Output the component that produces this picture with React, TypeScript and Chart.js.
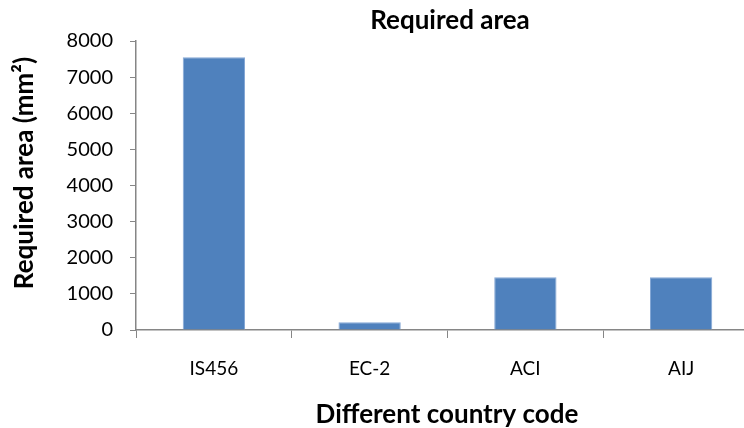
import React, { useEffect, useRef } from "react";
import { Chart, registerables } from "chart.js";

Chart.register(...registerables);

// Required reinforcement area per design code
const codes = ["IS456", "EC-2", "ACI", "AIJ"];
const requiredArea = [7550, 213, 1457, 1457];
const yTicks = [0, 1000, 2000, 3000, 4000, 5000, 6000, 7000, 8000];

const chartTitle = "Required area";
const xTitle = "Different country code";
const yTitle = "Required area (mm\u00B2)";

const FONT = "Lato, 'Open Sans', sans-serif";
const AXIS = "#868686";

const titlePlugin = {
  id: "titles",
  afterDraw(chart: Chart) {
    const ctx = chart.ctx;
    ctx.save();
    ctx.fillStyle = "#000";
    ctx.textAlign = "center";
    ctx.textBaseline = "alphabetic";
    ctx.font = `bold 26px ${FONT}`;
    ctx.fillText(chartTitle, 450, 29);
    ctx.font = `bold 26px ${FONT}`;
    ctx.fillText(xTitle, 447, 423);
    ctx.translate(33, 173);
    ctx.rotate(-Math.PI / 2);
    ctx.font = `bold 26px ${FONT}`;
    ctx.fillText(yTitle, 0, 0);
    ctx.restore();
  },
};

export default function App() {
  const ref = useRef<HTMLCanvasElement>(null);

  useEffect(() => {
    if (!ref.current) return;
    const chart = new Chart(ref.current, {
      type: "bar",
      data: {
        labels: codes,
        datasets: [
          {
            data: requiredArea,
            backgroundColor: "#4F81BD",
            borderColor: "#86a8d6",
            borderWidth: 1,
            categoryPercentage: 0.8,
            barPercentage: 0.5,
          },
        ],
      },
      options: {
        responsive: false,
        animation: false,
        layout: { padding: { left: 0, right: 21, top: 41, bottom: 0 } },
        plugins: {
          legend: { display: false },
          tooltip: { enabled: false },
        },
        scales: {
          x: {
            grid: {
              offset: true,
              drawOnChartArea: false,
              drawTicks: true,
              tickLength: 8,
              color: AXIS,
            },
            border: { display: true, color: AXIS, width: 1.5 },
            ticks: {
              color: "#000",
              font: { family: FONT, size: 19 },
              padding: 19,
            },
            afterFit(scale: any) {
              scale.height = 98;
            },
          },
          y: {
            min: 0,
            max: 8000,
            afterBuildTicks(scale: any) {
              scale.ticks = yTicks.map((v) => ({ value: v }));
            },
            grid: {
              drawOnChartArea: false,
              drawTicks: true,
              tickLength: 6,
              color: AXIS,
            },
            border: { display: true, color: AXIS, width: 1.5 },
            ticks: {
              color: "#000",
              font: { family: FONT, size: 20 },
              padding: 17,
              callback: (v: any) => String(v),
            },
            afterFit(scale: any) {
              scale.width = 136;
            },
          },
        },
      },
      plugins: [titlePlugin],
    });
    return () => chart.destroy();
  }, []);

  return (
    <div
      style={{
        position: "fixed",
        left: 0,
        top: 0,
        width: 744,
        height: 428,
        overflow: "hidden",
        background: "#fff",
      }}
    >
      <canvas ref={ref} width={780} height={428} />
    </div>
  );
}
